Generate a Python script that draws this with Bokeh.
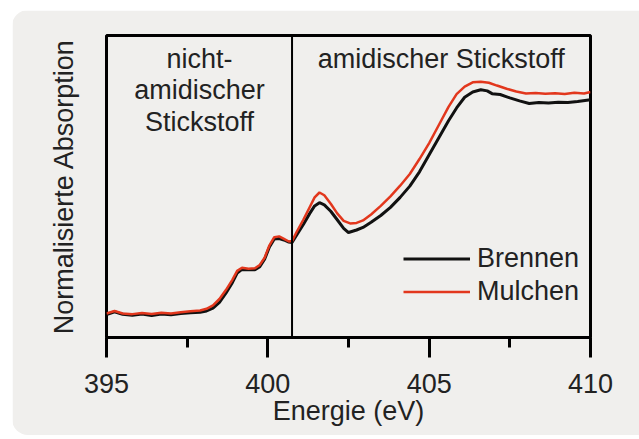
import math
from bokeh.plotting import figure
from bokeh.models import Span, Label, Legend, LegendItem, FixedTicker
from bokeh.embed import file_html
from bokeh.resources import INLINE

# Energy (eV) and normalized absorption
energy_mulchen = [395.0, 395.25, 395.5, 395.8, 396.1, 396.4, 396.7, 397.0, 397.3, 397.6, 397.9, 398.1,
                  398.3, 398.5, 398.7, 398.9, 399.05, 399.2, 399.4, 399.6, 399.75, 399.9, 400.05, 400.2,
                  400.35, 400.5, 400.65, 400.75, 400.9, 401.1, 401.3, 401.45, 401.6, 401.75, 401.95, 402.15,
                  402.35, 402.55, 402.75, 402.95, 403.2, 403.5, 403.8, 404.1, 404.4, 404.7, 405.0, 405.3,
                  405.6, 405.85, 406.1, 406.35, 406.6, 406.85, 407.1, 407.4, 407.7, 408.0, 408.3, 408.6,
                  408.9, 409.2, 409.5, 409.8, 410.0]
mulchen = [0.000, 0.012, 0.000, -0.003, 0.002, -0.002, 0.004, 0.000, 0.006, 0.010, 0.014, 0.022,
           0.038, 0.068, 0.110, 0.158, 0.200, 0.215, 0.210, 0.212, 0.228, 0.262, 0.320, 0.358,
           0.362, 0.350, 0.338, 0.340, 0.385, 0.440, 0.500, 0.545, 0.568, 0.555, 0.515, 0.470,
           0.435, 0.423, 0.425, 0.437, 0.465, 0.505, 0.550, 0.600, 0.655, 0.725, 0.800, 0.885,
           0.970, 1.030, 1.065, 1.085, 1.088, 1.083, 1.070, 1.055, 1.042, 1.033, 1.035, 1.032,
           1.034, 1.030, 1.036, 1.033, 1.040]

energy_brennen = [395.0, 395.25, 395.5, 395.8, 396.1, 396.4, 396.7, 397.0, 397.3, 397.6, 397.9, 398.1,
                  398.3, 398.5, 398.7, 398.9, 399.05, 399.2, 399.4, 399.6, 399.75, 399.9, 400.05, 400.2,
                  400.35, 400.5, 400.65, 400.75, 400.9, 401.1, 401.3, 401.45, 401.6, 401.75, 401.95, 402.15,
                  402.35, 402.5, 402.75, 402.95, 403.2, 403.5, 403.8, 404.1, 404.4, 404.7, 405.0, 405.3,
                  405.6, 405.85, 406.1, 406.35, 406.6, 406.8, 406.95, 407.2, 407.5, 407.8, 408.1, 408.4,
                  408.7, 409.0, 409.3, 409.6, 410.0]
brennen = [-0.005, 0.008, -0.004, -0.008, -0.002, -0.010, -0.002, -0.006, 0.000, 0.004, 0.006, 0.012,
           0.025, 0.052, 0.095, 0.145, 0.190, 0.207, 0.205, 0.205, 0.220, 0.255, 0.312, 0.350,
           0.352, 0.345, 0.335, 0.333, 0.370, 0.418, 0.470, 0.505, 0.520, 0.510, 0.480, 0.440,
           0.400, 0.380, 0.392, 0.404, 0.428, 0.460, 0.498, 0.545, 0.598, 0.665, 0.745, 0.825,
           0.905, 0.965, 1.015, 1.040, 1.050, 1.045, 1.032, 1.028, 1.012, 0.998, 0.986, 0.990,
           0.988, 0.992, 0.990, 0.995, 1.003]

x_ticks = [395, 400, 405, 410]
x_minor = [397.5, 402.5, 407.5]
divider = 400.75
series_names = ["Brennen", "Mulchen"]
region_left = ["nicht-", "amidischer", "Stickstoff"]
region_right = "amidischer Stickstoff"

FONT = "Liberation Sans"
BG = "#f0efed"
TXT = "#222222"
RED = "#e2371d"
FS = "27px"

p = figure(width=627, height=425, x_range=(395, 410), y_range=(-0.1127, 1.305),
           output_backend="svg", toolbar_location=None,
           min_border_left=94, min_border_right=49, min_border_top=25, min_border_bottom=98)
p.margin = (10, 0, 0, 12)
p.styles = {"border-radius": "16px 0 0 16px", "overflow": "hidden"}
p.background_fill_color = BG
p.border_fill_color = BG
p.outline_line_color = "black"
p.outline_line_width = 3
p.xgrid.visible = False
p.ygrid.visible = False

ax = p.xaxis[0]
ax.ticker = FixedTicker(ticks=x_ticks, minor_ticks=x_minor)
ax.axis_line_color = "black"
ax.axis_line_width = 3
ax.major_tick_line_width = 3
ax.minor_tick_line_width = 3
ax.major_tick_in = 0
ax.major_tick_out = 20
ax.minor_tick_in = 0
ax.minor_tick_out = 10
ax.major_label_text_font = FONT
ax.major_label_text_font_size = FS
ax.major_label_text_color = TXT
ax.major_label_standoff = 16
ax.axis_label = "Energie (eV)"
ax.axis_label_text_font = FONT
ax.axis_label_text_font_size = FS
ax.axis_label_text_font_style = "normal"
ax.axis_label_text_color = TXT
ax.axis_label_standoff = 0

ay = p.yaxis[0]
ay.ticker = FixedTicker(ticks=[], minor_ticks=[])
ay.axis_line_color = None
ay.major_tick_line_color = None
ay.minor_tick_line_color = None
ay.major_label_text_font_size = "0px"
ay.axis_label = "Normalisierte Absorption"
ay.axis_label_text_font = FONT
ay.axis_label_text_font_size = FS
ay.axis_label_text_font_style = "normal"
ay.axis_label_text_color = TXT
ay.axis_label_standoff = 28

p.add_layout(Span(location=divider, dimension="height", line_color="black", line_width=2))

r_b = p.line(energy_brennen, brennen, line_color="#111111", line_width=3)
r_m = p.line(energy_mulchen, mulchen, line_color=RED, line_width=2.5)

legend = Legend(items=[LegendItem(label=series_names[0], renderers=[r_b]),
                       LegendItem(label=series_names[1], renderers=[r_m])],
                location=(297, 30), padding=0, margin=0, spacing=2,
                glyph_width=67, glyph_height=27, label_height=27, label_standoff=7,
                label_text_font=FONT, label_text_font_size=FS, label_text_color=TXT,
                background_fill_alpha=0, border_line_color=None)
p.add_layout(legend)

left_center = 397.88
for txt, yv in zip(region_left, [1.197, 1.047, 0.897]):
    p.add_layout(Label(x=left_center, y=yv, text=txt, text_align="center", text_baseline="middle",
                       text_font=FONT, text_font_size=FS, text_color=TXT))
p.add_layout(Label(x=(divider + 410) / 2, y=1.197, text=region_right, text_align="center",
                   text_baseline="middle", text_font=FONT, text_font_size=FS, text_color=TXT))

open("out.html", "w").write(file_html(p, INLINE))
